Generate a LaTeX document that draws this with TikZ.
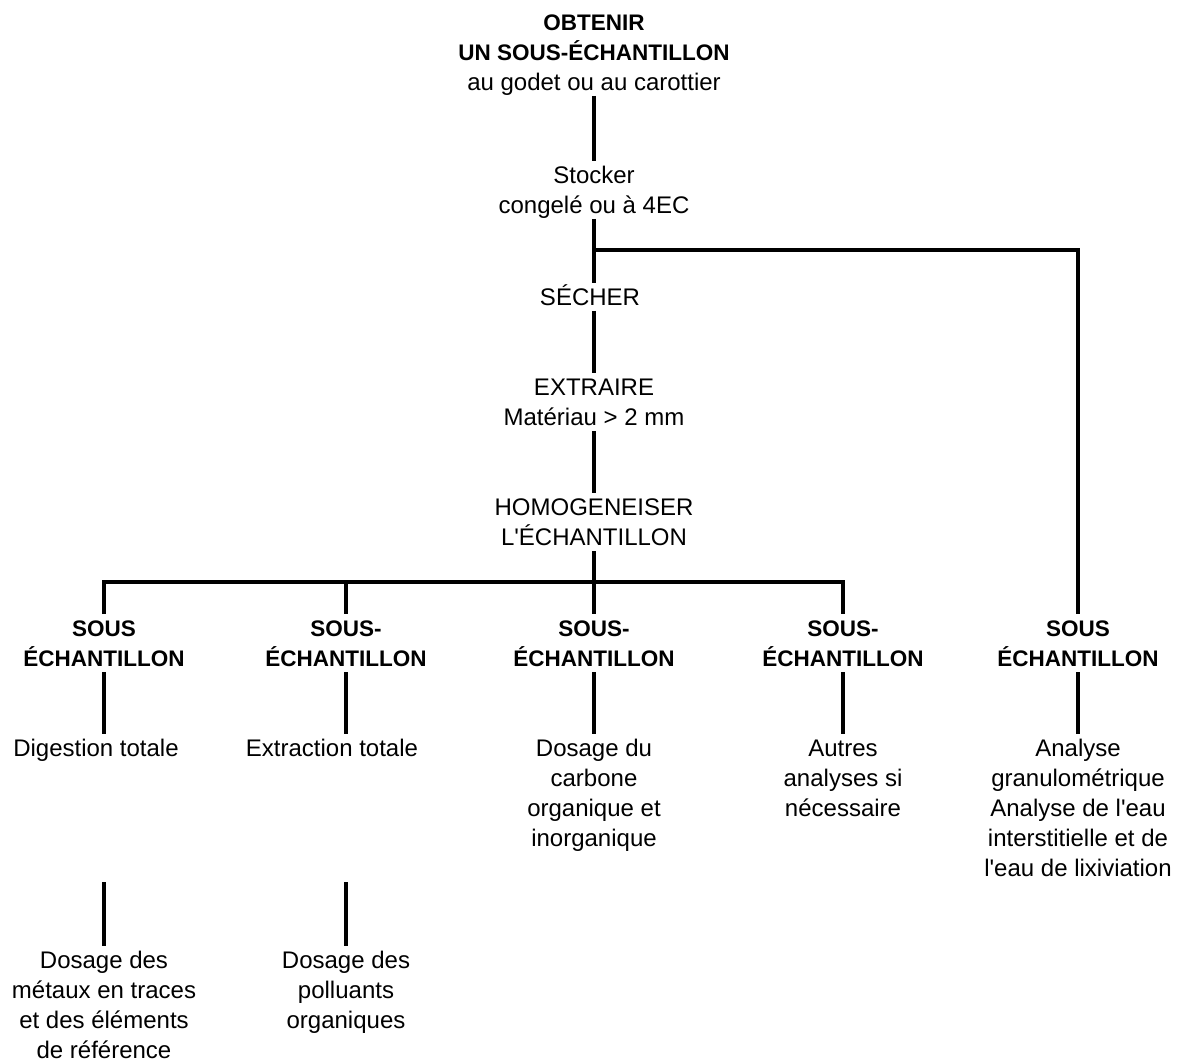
\documentclass[tikz,border=0pt]{standalone}
\usepackage{fontspec}
\setmainfont{Liberation Sans}
\newcommand\ms{\rule[-5.5pt]{0pt}{28pt}}
\newcommand\ap{\textquotesingle}
\newcommand\bfl[1]{{\fontsize{22.5}{30}\selectfont\bfseries\ms #1}}
\begin{document}
\begin{tikzpicture}[x=1pt,y=-1pt,
  lbl/.style={anchor=north,inner sep=0pt,outer sep=0pt,align=center,font=\fontsize{24}{30}\selectfont},
  conn/.style={line width=4.5pt,line join=miter}]
\useasboundingbox (0,0) rectangle (1180,1064);
% nodes
\node[lbl] (top) at (594,8) {\bfl{OBTENIR}\\\bfl{UN SOUS-ÉCHANTILLON}\\\ms au godet ou au carottier};
\node[lbl] (stock) at (594,161) {\ms Stocker\\\ms congelé ou à 4EC};
\node[lbl] (secher) at (590,283) {\ms SÉCHER};
\node[lbl] (extr) at (594,373) {\ms EXTRAIRE\\\ms Matériau > 2 mm};
\node[lbl] (homog) at (594,493) {\ms HOMOGENEISER\\\ms L\ap ÉCHANTILLON};
\node[lbl] (s1) at (104,614) {\bfl{SOUS}\\\bfl{ÉCHANTILLON}};
\node[lbl] (s2) at (346,614) {\bfl{SOUS-}\\\bfl{ÉCHANTILLON}};
\node[lbl] (s3) at (594,614) {\bfl{SOUS-}\\\bfl{ÉCHANTILLON}};
\node[lbl] (s4) at (843,614) {\bfl{SOUS-}\\\bfl{ÉCHANTILLON}};
\node[lbl] (s5) at (1078,614) {\bfl{SOUS}\\\bfl{ÉCHANTILLON}};
\node[lbl] (d1) at (96,734) {\ms Digestion totale};
\node[lbl] (d2) at (332,734) {\ms Extraction totale};
\node[lbl] (d3) at (594,734) {\ms Dosage du\\\ms carbone\\\ms organique et\\\ms inorganique};
\node[lbl] (d4) at (843,734) {\ms Autres\\\ms analyses si\\\ms nécessaire};
\node[lbl] (d5) at (1078,734) {\ms Analyse\\\ms granulométrique\\\ms Analyse de l\ap eau\\\ms interstitielle et de\\\ms l\ap eau de lixiviation};
\node[lbl] (e1) at (104,946) {\ms Dosage des\\\ms métaux en traces\\\ms et des éléments\\\ms de référence};
\node[lbl] (e2) at (346,946) {\ms Dosage des\\\ms polluants\\\ms organiques};
% junctions
\coordinate (j0) at (594,250);
\coordinate (j1) at (594,582);
\coordinate (c1) at (104,882);
\coordinate (c2) at (346,882);
% connectors
\draw[conn] (top.south) -- (stock.north);
\draw[conn] (stock.south) -- (stock.south |- secher.north);
\draw[conn] (j0) -| (s5.north);
\draw[conn] (stock.south |- secher.south) -- (extr.north);
\draw[conn] (extr.south) -- (homog.north);
\draw[conn] (homog.south) -- (j1);
\draw[conn] (s1.north) |- (j1) -| (s4.north);
\draw[conn] (s2.north |- j1) -- (s2.north);
\draw[conn] (j1) -- (s3.north);
\draw[conn] (s1.south) -- (s1.south |- d1.north);
\draw[conn] (s2.south) -- (s2.south |- d2.north);
\draw[conn] (s3.south) -- (d3.north);
\draw[conn] (s4.south) -- (d4.north);
\draw[conn] (s5.south) -- (d5.north);
\draw[conn] (c1) -- (e1.north);
\draw[conn] (c2) -- (e2.north);
\end{tikzpicture}
\end{document}
